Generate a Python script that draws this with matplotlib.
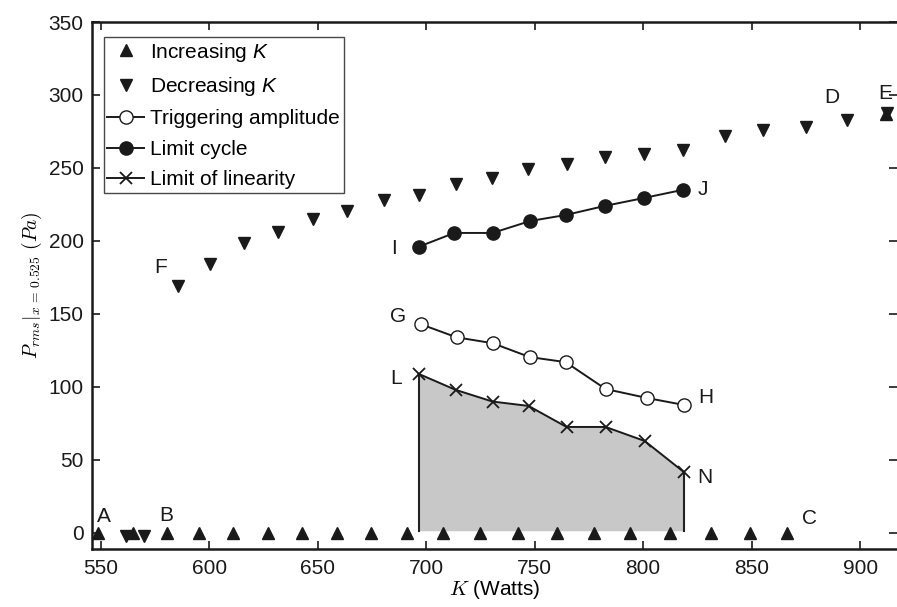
import matplotlib
matplotlib.use("Agg")
import matplotlib.pyplot as plt
import numpy as np

plt.rcParams['font.family'] = ['Liberation Sans', 'DejaVu Sans']
plt.rcParams['mathtext.fontset'] = 'cm'
# sans italic K inside the legend
plt.rcParams['mathtext.rm'] = 'Liberation Sans'
plt.rcParams['mathtext.it'] = 'Liberation Sans:italic'

# increasing K (up triangles)
inc_k = [548.6, 564.7, 580.4, 595.2, 610.8, 627.0, 642.6, 658.8, 674.4, 691.0,
         707.6, 724.7, 742.2, 760.1, 777.2, 793.8, 812.2, 831.1, 849.1, 866.1, 912.0]
inc_p = [0, 0, 0, 0, 0, 0, 0, 0, 0, 0,
         0, 0, 0, 0, 0, 0, 0, 0, 0, 0, 287]

# decreasing K (down triangles)
dec_k = [561.5, 569.8, 585.5, 600.2, 615.9, 631.6, 647.7, 663.4, 680.4, 696.5, 713.6,
         730.2, 746.8, 764.7, 782.3, 800.2, 818.2, 837.6, 855.1, 874.9, 893.8, 912.2]
dec_p = [-2, -2, 169, 184, 198.6, 206, 215, 220.5, 228, 231.5, 239,
         243, 249, 253, 257.5, 259.6, 262, 272, 276, 278, 283, 287.5]

lc_k = [696.5, 713.0, 730.6, 748.0, 764.3, 782.3, 800.2, 818.2]
lc_p = [196, 205.5, 205.5, 213.7, 217.8, 224, 229.4, 235]

trig_k = [697.5, 714.0, 730.6, 747.7, 764.3, 782.7, 801.6, 818.7]
trig_p = [143, 134, 130, 120.5, 117, 98.6, 92.5, 87.7]

lin_k = [696.5, 713.6, 730.6, 747.2, 764.7, 782.7, 800.7, 818.7]
lin_p = [109, 98, 90, 87, 72.6, 72.6, 63, 41.8]

point_labels = ['A', 'B', 'C', 'D', 'E', 'F', 'G', 'H', 'I', 'J', 'L', 'N']
label_k = [551.4, 580.0, 876.7, 887.0, 911.8, 577.6, 687.0, 828.8, 685.0, 827.4, 686.0, 828.4]
label_p = [11, 12, 9.6, 298, 301, 182, 148, 92.5, 195, 235, 105.5, 37.7]

fig = plt.figure(figsize=(8.97, 6.07), dpi=100)
ax = fig.add_axes([92/897, 1-549/607, 1-92/897, (549-22)/607])

ax.fill_between(lin_k, 1.5, lin_p, color='#c8c8c8', lw=0, zorder=1)
ax.plot([lin_k[0], lin_k[0]], [1.5, lin_p[0]], color='#222222', lw=1.5, zorder=2)
ax.plot([lin_k[-1], lin_k[-1]], [1.5, lin_p[-1]], color='#222222', lw=1.5, zorder=2)

ax.plot(inc_k, inc_p, '^', color='#1a1a1a', ms=9, ls='none', label=r'Increasing $K$', zorder=3)
ax.plot(dec_k, dec_p, 'v', color='#1a1a1a', ms=9, ls='none', label=r'Decreasing $K$', zorder=3)
ax.plot(trig_k, trig_p, 'o-', color='#1a1a1a', mfc='white', ms=9.5, mew=1.0, lw=1.4,
        label='Triggering amplitude', zorder=3)
ax.plot(lc_k, lc_p, 'o-', color='#1a1a1a', ms=9.5, lw=1.4, label='Limit cycle', zorder=3)
ax.plot(lin_k, lin_p, 'x-', color='#1a1a1a', ms=9, mew=1.3, lw=1.4,
        label='Limit of linearity', zorder=3)

for t, k, p in zip(point_labels, label_k, label_p):
    ax.text(k, p, t, fontsize=15, ha='center', va='center', color='#1a1a1a')

ax.set_xlim(546, 917)
ax.set_ylim(-11, 350)
ax.set_xticks(np.arange(550, 901, 50))
ax.set_yticks(np.arange(0, 351, 50))
ax.tick_params(direction='in', top=True, right=True, labelsize=15, length=6, width=1.2,
               colors='#1a1a1a')
ax.tick_params(axis='x', pad=7)
ax.tick_params(axis='y', pad=6)
for s in ['left', 'bottom', 'top']:
    ax.spines[s].set_linewidth(1.8)
    ax.spines[s].set_color('#1a1a1a')
ax.spines['right'].set_visible(False)

ax.set_xlabel(r'$K$ (Watts)', fontsize=15, labelpad=0)
ax.set_ylabel(r'$P_{rms}|_{x\,=\,\mathsf{0.525}}\ (Pa)$', fontsize=14, labelpad=3)

leg = ax.legend(loc='upper left', bbox_to_anchor=(0.0145, 0.972), fontsize=15,
                frameon=True, fancybox=False, edgecolor='#1a1a1a', handlelength=1.75,
                handletextpad=0.3, borderpad=0.18, labelspacing=0.55, borderaxespad=0)
leg.get_frame().set_linewidth(1.0)
for txt in leg.get_texts():
    txt.set_math_fontfamily('custom')

fig.savefig('out.png', dpi=100)
